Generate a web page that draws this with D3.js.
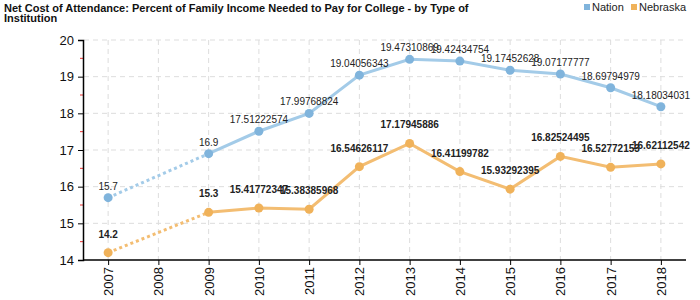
<!DOCTYPE html>
<html>
<head>
<meta charset="utf-8">
<script src="https://cdn.jsdelivr.net/npm/d3@7"></script>
<style>
  body { margin: 0; background: #fff; }
  svg { font-family: Arial, "Liberation Sans", sans-serif; }
</style>
</head>
<body>
<div id="chart"></div>
<script>
const years = ["2007", "2008", "2009", "2010", "2011", "2012", "2013", "2014", "2015", "2016", "2017", "2018"];
const nation = [15.7, null, 16.9, 17.51222574, 17.99768824, 19.04056343, 19.47310869, 19.42434754, 19.17452628, 19.07177777, 18.69794979, 18.18034031];
const nebraska = [14.2, null, 15.3, 15.41772347, 15.38385968, 16.54626117, 17.17945886, 16.41199782, 15.93292395, 16.82524495, 16.52772153, 16.62112542];
const yTicks = [14, 15, 16, 17, 18, 19, 20];
const seriesNames = ["Nation", "Nebraska"];

const width = 700, height = 300;
const margin = {top: 40, right: 14, bottom: 40, left: 83};

const svg = d3.select("#chart").append("svg")
    .attr("width", width)
    .attr("height", height);

// title
const title = svg.append("text")
    .attr("x", 4)
    .attr("y", 12)
    .style("font-size", "11px")
    .style("font-weight", "bold")
    .attr("fill", "#111");
title.append("tspan").attr("x", 4).text("Net Cost of Attendance: Percent of Family Income Needed to Pay for College - by Type of");
title.append("tspan").attr("x", 4).attr("dy", 10).text("Institution");

const x = d3.scalePoint()
    .domain(years)
    .range([margin.left, width - margin.right])
    .padding(0.5);

const y = d3.scaleLinear()
    .domain([14, 20])
    .range([height - margin.bottom, margin.top]);

// grid
svg.append("g")
    .selectAll("line")
    .data(yTicks.slice(1))
    .enter().append("line")
    .attr("x1", margin.left + 1)
    .attr("x2", width - margin.right)
    .attr("y1", d => y(d))
    .attr("y2", d => y(d))
    .attr("stroke", "#ddd")
    .attr("stroke-dasharray", "5,4");
svg.append("g")
    .selectAll("line")
    .data(years)
    .enter().append("line")
    .attr("x1", d => x(d))
    .attr("x2", d => x(d))
    .attr("y1", margin.top)
    .attr("y2", height - margin.bottom)
    .attr("stroke", "#ddd")
    .attr("stroke-dasharray", "5,4");

// minor red ticks
svg.append("g")
    .selectAll("line")
    .data(yTicks.slice(0, -1).map(d => d + 0.5))
    .enter().append("line")
    .attr("x1", margin.left - 3)
    .attr("x2", margin.left)
    .attr("y1", d => y(d))
    .attr("y2", d => y(d))
    .attr("stroke", "#e33");

// Y axis
const yAxis = svg.append("g")
    .attr("transform", `translate(${margin.left},0)`)
    .call(d3.axisLeft(y).tickValues(yTicks).tickSize(5).tickPadding(4).tickFormat(d3.format("d")));
yAxis.select(".domain").attr("stroke", "#000").attr("stroke-width", 1.5);
yAxis.selectAll("text").style("font-size", "13px").attr("fill", "#111");

// X axis
const xAxis = svg.append("g")
    .attr("transform", `translate(0,${height - margin.bottom})`)
    .call(d3.axisBottom(x).tickSize(5).tickSizeOuter(0));
xAxis.select(".domain").attr("stroke", "#000").attr("stroke-width", 1.5)
    .attr("d", `M${margin.left},0H${width - margin.right}`);
xAxis.selectAll("text")
    .style("font-size", "13px")
    .attr("fill", "#111")
    .attr("transform", "rotate(-90)")
    .attr("x", -7)
    .attr("y", 0)
    .attr("dy", "0.35em")
    .style("text-anchor", "end");

const series = [
    {name: seriesNames[0], values: nation, line: "#a3cbe8", dot: "#80b4dc", bold: false, off: 8},
    {name: seriesNames[1], values: nebraska, line: "#f3bd72", dot: "#f0b25a", bold: true, off: 15}
];

series.forEach(s => {
    const pts = years.map((yr, i) => ({year: yr, v: s.values[i]})).filter(d => d.v !== null);
    const line = d3.line().x(d => x(d.year)).y(d => y(d.v));
    // dashed bridge over the missing year
    svg.append("path")
        .datum(pts.slice(0, 2))
        .attr("d", line)
        .attr("fill", "none")
        .attr("stroke", s.line)
        .attr("stroke-width", 3)
        .attr("stroke-dasharray", "3,3");
    svg.append("path")
        .datum(pts.slice(1))
        .attr("d", line)
        .attr("fill", "none")
        .attr("stroke", s.line)
        .attr("stroke-width", 3);
    svg.append("g")
        .selectAll("circle")
        .data(pts)
        .enter().append("circle")
        .attr("cx", d => x(d.year))
        .attr("cy", d => y(d.v))
        .attr("r", 4.5)
        .attr("fill", s.dot);
    svg.append("g")
        .selectAll("text")
        .data(pts)
        .enter().append("text")
        .attr("x", d => x(d.year))
        .attr("y", d => y(d.v) - s.off)
        .attr("text-anchor", "middle")
        .style("font-size", "10px")
        .style("font-weight", s.bold ? "bold" : "normal")
        .attr("fill", "#222")
        .text(d => String(d.v));
});

// legend
const legend = svg.append("g");
const legendX = [584, 631];
series.forEach((s, i) => {
    legend.append("rect")
        .attr("x", legendX[i])
        .attr("y", 4)
        .attr("width", 6)
        .attr("height", 6)
        .attr("fill", s.dot);
    legend.append("text")
        .attr("x", legendX[i] + 8)
        .attr("y", 11)
        .style("font-size", "11px")
        .attr("fill", "#222")
        .text(s.name);
});
</script>
</body>
</html>
